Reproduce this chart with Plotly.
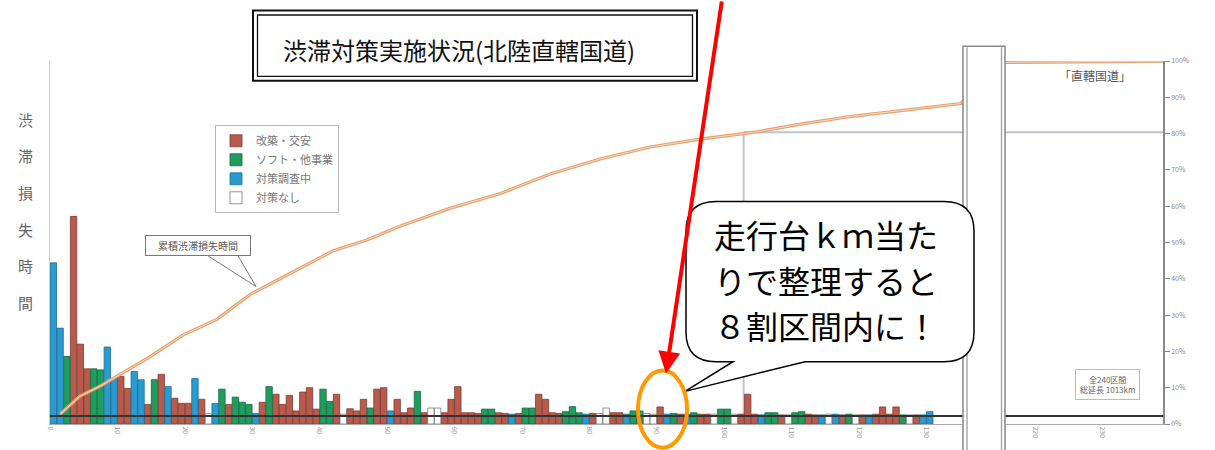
import numpy as np
import plotly.graph_objects as go

# ---------------- data ----------------
TYPE_LABELS = {"R": "改築・交安", "G": "ソフト・他事業", "B": "対策調査中", "N": "対策なし"}
TYPE_ORDER = ["R", "G", "B", "N"]

bar_types = (
    "B B G R R R G G B B "
    "R R B B R G R B R R "
    "R B R N B G R G G G "
    "B R G R R R R R R R "
    "G G R N R R R G R R "
    "B R R R G R N N R R "
    "R R R R G G R R B R "
    "G G R R R R G G G B "
    "R N N R R B G G N N "
    "R B G R B G R R N G "
    "G N R R R B G G R N "
    "G G R R B N B R G N "
    "R B R R R R G N R B B"
).split()

bar_values = [
    44.4, 26.4, 18.6, 57.2, 22.0, 15.2, 15.2, 14.9, 21.2, 12.5,
    13.1, 9.8, 14.5, 12.2, 5.4, 12.2, 13.7, 10.3, 7.1, 5.7,
    5.7, 12.5, 6.8, 2.9, 5.7, 9.6, 5.4, 7.4, 6.0, 5.4,
    2.9, 6.0, 10.3, 8.2, 5.4, 7.9, 3.6, 8.8, 10.0, 4.1,
    9.6, 6.2, 8.2, 2.7, 4.2, 3.6, 6.8, 4.4, 9.6, 10.0,
    3.6, 6.8, 3.1, 4.4, 9.0, 3.1, 4.4, 4.4, 3.1, 6.8,
    10.3, 3.1, 3.1, 2.9, 4.1, 4.1, 3.1, 2.9, 2.7, 2.9,
    4.4, 4.4, 8.2, 6.8, 3.1, 2.9, 3.4, 4.8, 3.1, 2.7,
    2.9, 2.9, 4.4, 3.1, 3.1, 2.7, 3.6, 3.6, 2.9, 2.7,
    4.7, 2.7, 2.9, 2.7, 2.7, 3.1, 2.7, 2.7, 2.7, 4.1,
    4.1, 2.7, 2.7, 8.2, 2.7, 2.5, 3.1, 3.1, 2.5, 2.5,
    3.1, 3.4, 2.7, 2.5, 2.5, 2.7, 2.7, 2.5, 2.7, 2.5,
    2.5, 2.5, 2.7, 4.7, 2.7, 4.7, 2.5, 2.5, 2.5, 2.5, 3.4,
]

# cumulative congestion-loss curve (section rank, %)
cum_section = [2.0, 4.9, 7.9, 10.4, 15.3, 20.2, 25.3, 30.2, 37.6, 42.5, 47.5, 52.4,
               59.8, 67.3, 74.7, 82.1, 89.5, 97.0, 105.1, 111.8, 119.2, 126.6, 135.6,
               215.0, 240.0]
cum_pct = [2.7, 7.6, 10.4, 13.1, 18.5, 24.5, 28.9, 35.7, 43.0, 47.7, 50.7, 54.5,
           59.4, 63.5, 68.9, 73.0, 76.3, 78.5, 80.4, 82.6, 84.7, 86.4, 88.3,
           99.6, 100.0]

tick_sections = [0, 10, 20, 30, 40, 50, 60, 70, 80, 90, 100, 110, 120, 130, 220, 230]
pct_ticks = [0, 10, 20, 30, 40, 50, 60, 70, 80, 90, 100]

title_text = "渋滞対策実施状況(北陸直轄国道)"
yaxis_label = "渋滞損失時間"
curve_label = "累積渋滞損失時間"
scope_label = "「直轄国道」"
total_label = "全240区間<br>総延長 1013km"
bubble_lines = ["走行台ｋｍ当た", "りで整理すると", "８割区間内に！"]

# ---------------- helpers ----------------
BREAK_AFTER = 150      # sections beyond this are shown after the axis break
BREAK_SHIFT = 73.8     # hidden sections behind the break box


def to_pos(s):
    return s - BREAK_SHIFT if s > BREAK_AFTER else s


L, R, T, B = 50, 1163, 61, 428
W, H = R - L, B - T


def px(x):
    return (x - L) / W


def py(y):
    return (B - y) / H


COLORS = {"R": "#B85B4D", "G": "#1F9C5E", "B": "#2A9BD0", "N": "#FFFFFF"}
EDGES = {"R": "#7E3B31", "G": "#146B40", "B": "#1B6D93", "N": "#777777"}
FONT = "Noto Sans CJK JP"

fig = go.Figure()

positions = np.arange(1, len(bar_values) + 1)
for code in TYPE_ORDER:
    xs = [p for p, t in zip(positions, bar_types) if t == code]
    ys = [v for v, t in zip(bar_values, bar_types) if t == code]
    fig.add_trace(go.Bar(
        x=xs, y=ys, width=0.95, name=TYPE_LABELS[code],
        marker=dict(color=COLORS[code], line=dict(color=EDGES[code], width=0.8)),
        yaxis="y",
    ))

curve_x = [to_pos(s) for s in cum_section]
fig.add_trace(go.Scatter(x=curve_x, y=cum_pct, mode="lines", yaxis="y2", showlegend=False,
                         line=dict(color="#E6A070", width=3.2)))
fig.add_trace(go.Scatter(x=curve_x, y=cum_pct, mode="lines", yaxis="y2", showlegend=False,
                         line=dict(color="#F8D9BD", width=1)))

x80 = float(np.interp(80, cum_pct, curve_x))

tickvals = [to_pos(s) + 0.5 if s <= BREAK_AFTER else to_pos(s) + 0.4 for s in tick_sections]

fig.update_layout(
    width=1215, height=450,
    margin=dict(l=L, r=1215 - R, t=T, b=450 - B),
    paper_bgcolor="white", plot_bgcolor="white",
    font=dict(family=FONT, color="#555"),
    barmode="overlay",
    xaxis=dict(range=[0.5, 165.6], tickvals=tickvals, ticktext=[str(s) for s in tick_sections],
               tickangle=90, tickfont=dict(size=7, color="#999"), showgrid=False, zeroline=False,
               showline=True, linecolor="#AAAAAA", linewidth=1, ticks=""),
    yaxis=dict(range=[0, 100], showgrid=False, zeroline=False, showticklabels=False,
               showline=True, linecolor="#CCCCCC", linewidth=1),
    yaxis2=dict(range=[0, 100], overlaying="y", side="right", tickvals=pct_ticks,
                ticktext=[f"{v}%" for v in pct_ticks],
                tickfont=dict(size=7, color="#888"), showgrid=False,
                zeroline=False, showline=True, linecolor="#888888", linewidth=1.5,
                ticks="outside", ticklen=5, tickcolor="#888"),
    legend=dict(x=px(215), y=py(126), xanchor="left", yanchor="top",
                bgcolor="white", bordercolor="#BBBBBB", borderwidth=1,
                font=dict(size=11, color="#777", family=FONT), tracegroupgap=0,
                itemwidth=30),
)

shapes = []
# 80% guide lines
shapes.append(dict(type="line", xref="x", yref="y2", x0=x80, x1=x80, y0=2, y1=80,
                   line=dict(color="#C0C3D3", width=2), layer="below"))
shapes.append(dict(type="line", xref="x", yref="paper", x0=x80, x1=165.6, y0=py(133), y1=py(133),
                   line=dict(color="#BFC2D2", width=2), layer="below"))
# dark base line
shapes.append(dict(type="line", xref="paper", yref="paper", x0=0, x1=1, y0=py(420), y1=py(420),
                   line=dict(color="#333333", width=2), layer="above"))
# break box
shapes.append(dict(type="rect", xref="paper", yref="paper", x0=px(963), x1=px(1005),
                   y0=py(455), y1=py(46), fillcolor="white", line=dict(color="#888", width=1.5),
                   layer="above"))
shapes.append(dict(type="line", xref="paper", yref="paper", x0=px(967), x1=px(967),
                   y0=py(455), y1=py(47), line=dict(color="#AAAAAA", width=1.5), layer="above"))
shapes.append(dict(type="line", xref="paper", yref="paper", x0=px(1001.5), x1=px(1001.5),
                   y0=py(455), y1=py(47), line=dict(color="#AAAAAA", width=1.5), layer="above"))
# title double frame
shapes.append(dict(type="rect", xref="paper", yref="paper", x0=px(253), x1=px(697),
                   y0=py(81), y1=py(10), fillcolor="white", line=dict(color="#111", width=2),
                   layer="above"))
shapes.append(dict(type="rect", xref="paper", yref="paper", x0=px(257.5), x1=px(692.5),
                   y0=py(76.5), y1=py(14.5), line=dict(color="#111", width=1.3), layer="above"))
# callout tail for the curve label
shapes.append(dict(type="path", xref="paper", yref="paper",
                   path=f"M {px(208)},{py(258)} L {px(256)},{py(289)} L {px(238)},{py(258)}",
                   line=dict(color="#777", width=1), layer="above"))
# speech bubble
bl, br, bt, bb, r = 686, 974, 203, 365, 30
pts = [
    ("M", (bl + r, bt)), ("L", (br - r, bt)), ("Q", (br, bt), (br, bt + r)),
    ("L", (br, bb - r)), ("Q", (br, bb), (br - r, bb)), ("L", (805, bb)),
    ("L", (685, 395)), ("L", (733, bb)), ("L", (bl + r, bb)),
    ("Q", (bl, bb), (bl, bb - r)), ("L", (bl, bt + r)), ("Q", (bl, bt), (bl + r, bt)),
]
path = ""
for seg in pts:
    cmd = seg[0]
    coords = " ".join(f"{px(p[0]):.5f},{py(p[1]):.5f}" for p in seg[1:])
    path += f"{cmd} {coords} "
path += "Z"
shapes.append(dict(type="path", xref="paper", yref="paper", path=path, fillcolor="white",
                   line=dict(color="black", width=1.5), layer="above"))
# orange ellipse
shapes.append(dict(type="circle", xref="paper", yref="paper", x0=px(638), x1=px(687),
                   y0=py(452), y1=py(374), line=dict(color="#FF9A00", width=4), layer="above"))
fig.update_layout(shapes=shapes)


def label(x, y, text, size, color, xanchor="center", **kw):
    return dict(xref="paper", yref="paper", x=px(x), y=py(y), text=text, showarrow=False,
                xanchor=xanchor, yanchor="middle",
                font=dict(size=size, color=color, family=FONT), **kw)


ann = []
ann.append(label(459, 49, title_text, 24, "#111"))
for i, ch in enumerate(yaxis_label):
    ann.append(label(25, 120 + 37 * i, ch, 15, "#666"))
ann.append(label(197.5, 248, curve_label, 10, "#555", bgcolor="white", bordercolor="#777",
                 borderwidth=1, borderpad=2, width=100))
ann.append(label(1095, 76, scope_label, 12, "#555"))
ann.append(label(1107, 388, total_label, 8, "#666", bordercolor="#BBBBBB", borderwidth=1,
                 borderpad=4, bgcolor="white"))
for i, line in enumerate(bubble_lines):
    ann.append(label(712, 236 + 46 * i, line, 32, "black", xanchor="left"))
# red arrow
ann.append(dict(xref="paper", yref="paper", x=px(666), y=py(377), ax=56, ay=-385,
                axref="pixel", ayref="pixel", text="", showarrow=True, arrowhead=2,
                arrowsize=1.1, arrowwidth=4, arrowcolor="#FF0000"))
fig.update_layout(annotations=ann)

fig.write_html("out.html")
